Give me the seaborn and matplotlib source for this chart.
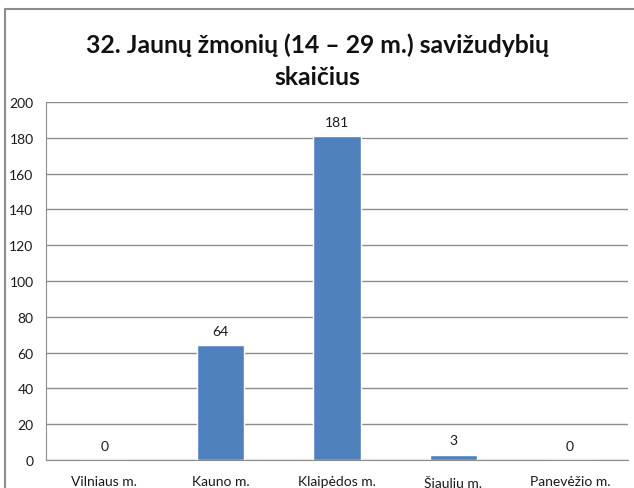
import matplotlib
matplotlib.use("Agg")
import matplotlib.pyplot as plt
from matplotlib.patches import Rectangle
import seaborn as sns
import pandas as pd

# Savivaldybės ir savižudybių skaičius
cities = ["Vilniaus m.", "Kauno m.", "Klaipėdos m.", "Šiaulių m.", "Panevėžio m."]
counts = [0, 64, 181, 3, 0]
yticks = [0, 20, 40, 60, 80, 100, 120, 140, 160, 180, 200]
title = "32. Jaunų žmonių (14 – 29 m.) savižudybių\nskaičius"

df = pd.DataFrame({"city": cities, "count": counts})

sns.set_style("white")
plt.rcParams["font.family"] = ["Lato", "DejaVu Sans"]

W, H = 634, 489
fig = plt.figure(figsize=(W / 100, H / 100), dpi=100)
ax = fig.add_axes([46 / W, 1 - 461 / H, (628 - 46) / W, (461 - 103) / H])

bar_color = "#4F81BD"
sns.barplot(data=df, x="city", y="count", color=bar_color, width=0.41,
            saturation=1, ax=ax, zorder=3)

ax.set_ylim(0, 200)
ax.set_xlim(-0.5, len(cities) - 0.5)
ax.set_yticks(yticks)
ax.set_yticklabels([str(v) for v in yticks], fontsize=10, color="#1a1a1a")
ax.set_xlabel("")
ax.set_ylabel("")

# horizontal gridlines
ax.yaxis.grid(True, color="#8c8c8c", linewidth=1)
ax.set_axisbelow(True)

for side in ("top", "right"):
    ax.spines[side].set_visible(False)
ax.spines["left"].set_color("#8c8c8c")
ax.spines["bottom"].set_color("#8c8c8c")

# category separators on the x axis, labels centred between them
ax.set_xticks([i - 0.5 for i in range(len(cities) + 1)])
ax.set_xticklabels([])
ax.set_xticks(range(len(cities)), minor=True)
ax.set_xticklabels(cities, minor=True, fontsize=10, color="#1a1a1a")
ax.tick_params(axis="x", which="major", length=5, color="#8c8c8c", direction="out")
ax.tick_params(axis="x", which="minor", length=0, pad=10.5)
ax.tick_params(axis="y", length=5, color="#8c8c8c", direction="out", pad=4)

# value labels above bars
for i, v in enumerate(counts):
    ax.annotate(str(v), (i, v), xytext=(0, 6), textcoords="offset points",
                ha="center", va="bottom", fontsize=10, color="#1a1a1a")

fig.text(0.5, 1 - 61 / H, title, ha="center", va="center", fontsize=17.8,
         fontweight="bold", color="#111111", linespacing=1.45)

# chart area frame
fig.patches.append(Rectangle((5 / W, -0.1), 1.2, 1.1 - 10 / H,
                             transform=fig.transFigure, fill=False,
                             edgecolor="#8c8c8c", linewidth=1.5, zorder=0))

fig.savefig("out.png", dpi=100)
